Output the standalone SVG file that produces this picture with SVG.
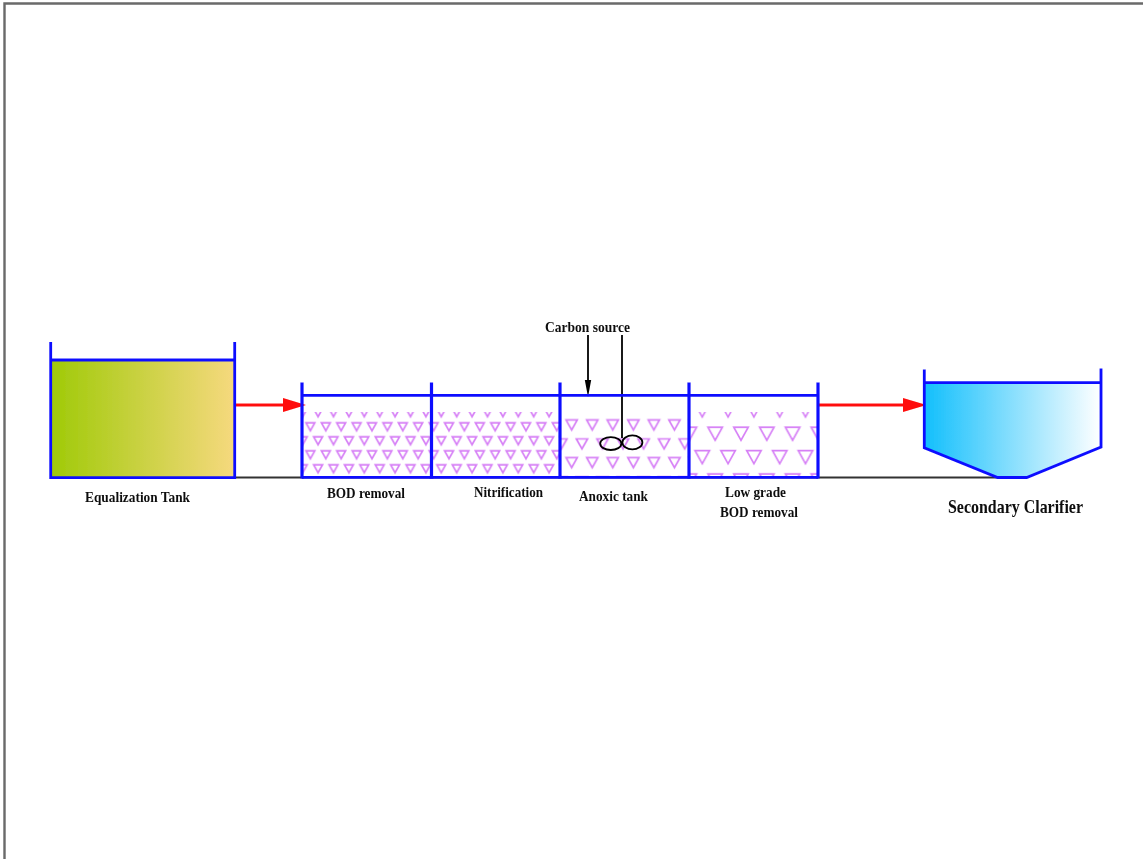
<svg xmlns="http://www.w3.org/2000/svg" width="1143" height="859" viewBox="0 0 1143 859">
<style>
.w{stroke:#1010ff;stroke-width:2.8;fill:none;stroke-linecap:butt}
.t{stroke:#d67ff6;stroke-width:1.7;fill:none}
.r{stroke:#ff1010;stroke-width:2.8;fill:none}
.h{fill:#ff0a0a;stroke:none}
.k{stroke:#000;stroke-width:1.8;fill:none}
text{font-family:"Liberation Serif","Times New Roman",serif;font-weight:bold;fill:#111;font-size:15.5px}
</style>
<defs>
<linearGradient id="eq" x1="0" x2="1" y1="0" y2="0"><stop offset="0" stop-color="#9fca08"/><stop offset="1" stop-color="#f6d97e"/></linearGradient>
<linearGradient id="cl" x1="0" x2="1" y1="0" y2="0"><stop offset="0" stop-color="#12bffc"/><stop offset="1" stop-color="#ffffff"/></linearGradient>
<filter id="soft" x="-2%" y="-2%" width="104%" height="104%"><feGaussianBlur stdDeviation="0.4"/></filter>
<path id="s" class="t" d="M-4.4-3.8H4.4L0 4Z"/>
<path id="m" class="t" d="M-5.6-5H5.6L0 5Z"/>
<path id="l" class="t" d="M-7.2-6H7.2L0 7Z"/>
<pattern id="p1" patternUnits="userSpaceOnUse" width="15.4" height="28" patternTransform="translate(295 405.7)">
<use href="#s" x="7.7" y="7"/><use href="#s" x="0" y="21"/><use href="#s" x="15.4" y="21"/>
</pattern>
<pattern id="p2" patternUnits="userSpaceOnUse" width="20.55" height="37.7" patternTransform="translate(561.4 415.6)">
<use href="#m" x="10.3" y="9.4"/><use href="#m" x="0" y="28.3"/><use href="#m" x="20.55" y="28.3"/>
</pattern>
<pattern id="p3" patternUnits="userSpaceOnUse" width="25.8" height="46.7" patternTransform="translate(689.4 398.33)">
<use href="#l" x="12.9" y="11.67"/><use href="#l" x="0" y="35"/><use href="#l" x="25.8" y="35"/>
</pattern>
</defs>
<rect width="1143" height="859" fill="#fff"/>
<g filter="url(#soft)">
<path id="frame" d="M4.5 859V3.5H1143" fill="none" stroke="#6a6a6a" stroke-width="2.4"/>
<g id="connectors">
<path d="M50 477.5H1000" stroke="#333" stroke-width="1.8" fill="none"/>
<path class="r" d="M235 405H286"/><path class="h" d="M283 398L306 405L283 412Z"/>
<path class="r" d="M818 405H906"/><path class="h" d="M903 398L926.5 405L903 412Z"/>
<path d="M588 335V384" stroke="#000" stroke-width="1.8" fill="none"/><path d="M584.8 380H591.2L588 397Z" fill="#000"/>
</g>
<g id="equalization-tank">
<rect x="50.7" y="360" width="184" height="117.6" fill="url(#eq)"/>
<path class="w" d="M50.7 342V477.6H234.7V342M50.7 360H234.7"/>
<text x="85" y="501.5" textLength="105" lengthAdjust="spacingAndGlyphs">Equalization Tank</text>
</g>
<g id="bod-removal">
<rect x="302" y="412" width="129.5" height="65" fill="url(#p1)"/>
<text x="327" y="497.5" textLength="78" lengthAdjust="spacingAndGlyphs">BOD removal</text>
</g>
<g id="nitrification">
<rect x="431.5" y="412" width="128.5" height="65" fill="url(#p1)"/>
<text x="474" y="497" textLength="69" lengthAdjust="spacingAndGlyphs">Nitrification</text>
</g>
<g id="anoxic-tank">
<rect x="560" y="418" width="129" height="58" fill="url(#p2)"/>
<g id="mixer">
<path class="k" d="M622 335V438"/>
<ellipse class="k" cx="610.8" cy="443.6" rx="10.6" ry="6.4"/>
<ellipse class="k" cx="632.4" cy="442.4" rx="10" ry="7"/>
</g>
<text x="579" y="501" textLength="69" lengthAdjust="spacingAndGlyphs">Anoxic tank</text>
</g>
<g id="low-grade-bod-removal">
<rect x="689" y="412" width="129" height="65" fill="url(#p3)"/>
<text x="725" y="497" textLength="61" lengthAdjust="spacingAndGlyphs">Low grade</text>
<text x="720" y="517" textLength="78" lengthAdjust="spacingAndGlyphs">BOD removal</text>
</g>
<g id="reactor-walls">
<path class="w" d="M302 395.3H818"/>
<path class="w" d="M302 477.3H818"/>
<path class="w" style="stroke-width:3.2" d="M302 382.5V478.5M431.5 382.5V478.5M560 382.5V478.5M689 382.5V478.5M818 382.5V478.5"/>
</g>
<g id="secondary-clarifier">
<path d="M924.3 382.7H1101V447L1026.7 477.5H997.7L924.3 447.7Z" fill="url(#cl)"/>
<path class="w" d="M924.3 369.5V447.7L997.7 477.5H1026.7L1101 447V368.5M924.3 382.7H1101"/>
<text x="948" y="512.5" textLength="135" lengthAdjust="spacingAndGlyphs" style="font-size:19px">Secondary Clarifier</text>
</g>
<g id="carbon-source"><text x="545" y="332" textLength="85" lengthAdjust="spacingAndGlyphs">Carbon source</text></g>
</g>
</svg>
